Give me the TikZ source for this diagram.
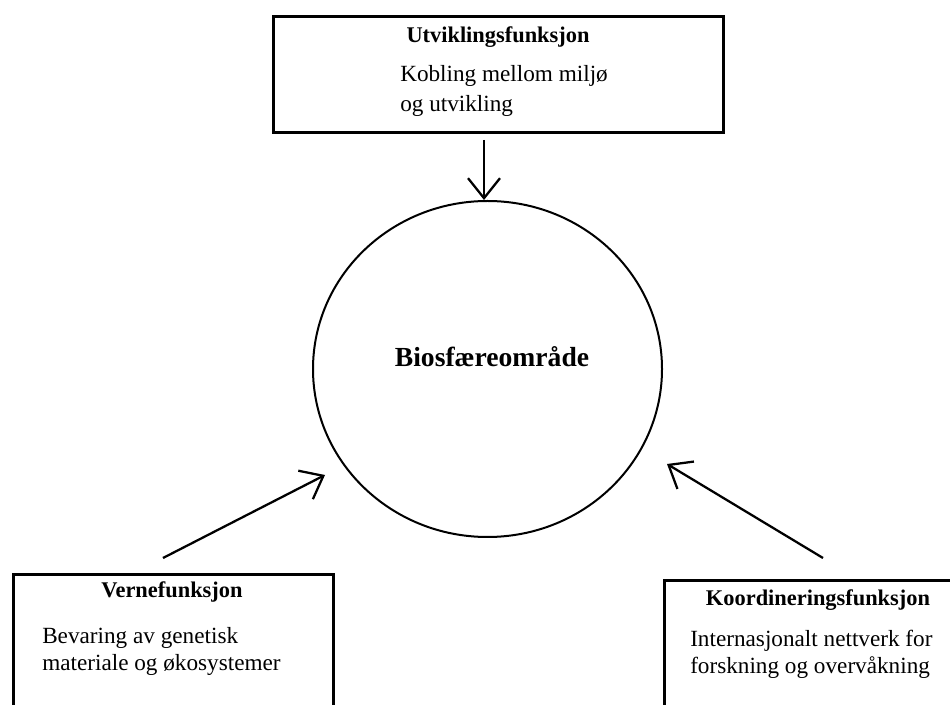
\documentclass[tikz,border=0pt]{standalone}
\usepackage{fontspec}
\setmainfont{Liberation Serif}
\usetikzlibrary{shapes.geometric, arrows.meta, positioning}
\tikzstyle{funksjon} = [rectangle, draw=black, line width=2.25pt, inner sep=0pt]
\tikzstyle{omraade} = [ellipse, draw=black, line width=1.5pt, minimum width=261.75pt, minimum height=252pt, inner sep=0pt]
\tikzstyle{tittel} = [font=\bfseries\fontsize{16.8}{20}\selectfont, anchor=base, inner sep=0pt]
\tikzstyle{tekst} = [font=\fontsize{17.4}{20.3}\selectfont, align=left, anchor=north west, inner sep=0pt]
\tikzstyle{pil} = [line width=1.7pt, -{Straight Barb[length=15pt, width=24pt]}]
\begin{document}
\begin{tikzpicture}[x=0.75pt, y=-0.75pt]
    \useasboundingbox (0,0) rectangle (950,705);
    % Nodes
    \node (utv) [funksjon, minimum width=337.5pt, minimum height=87pt] at (498,75) {};
    \node (utvtittel) [tittel] at (498,43) {Utviklingsfunksjon};
    \node (utvtekst) [tekst, font=\fontsize{17.4}{22.5}\selectfont] at (400,65) {Kobling mellom miljø\\og utvikling};
    \node (bio) [omraade] at (487.5,369) {};
    \node (biotekst) [font=\bfseries\fontsize{20.7}{24}\selectfont, anchor=base] at (492,367) {Biosfæreområde};
    \node (vern) [funksjon, minimum width=240pt, minimum height=123.75pt] at (173,657.5) {};
    \node (verntittel) [tittel] at (172,598) {Vernefunksjon};
    \node (verntekst) [tekst] at (42,627) {Bevaring av genetisk\\materiale og økosystemer};
    \node (koord) [funksjon, minimum width=231pt, minimum height=119.25pt] at (818,660.5) {};
    \node (koordtittel) [tittel] at (818,605) {Koordineringsfunksjon};
    \node (koordtekst) [tekst] at (690,630) {Internasjonalt nettverk for\\forskning og overvåkning};

    % Arrows
    \coordinate (utvpil) at (484,140);
    \coordinate (vernpil) at (163,558);
    \coordinate (vernmaal) at (325,475);
    \coordinate (koordpil) at (823,558);
    \coordinate (koordmaal) at (667,464);
    \draw [pil] (utvpil) -- (utvpil |- bio.north);
    \draw [pil] (vernpil) -- (vernmaal);
    \draw [pil] (koordpil) -- (koordmaal);
\end{tikzpicture}
\end{document}
